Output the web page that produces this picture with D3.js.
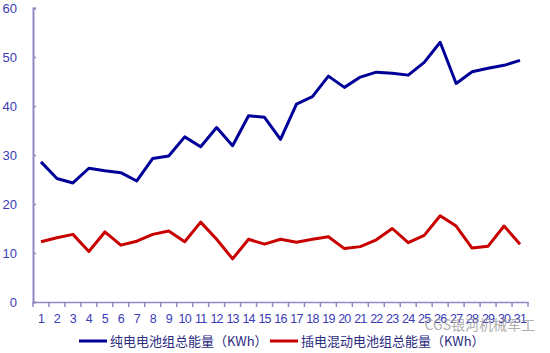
<!DOCTYPE html>
<html>
<head>
<meta charset="utf-8">
<script src="https://cdn.jsdelivr.net/npm/d3@7"></script>
<style>
  body { margin: 0; background: #fff; }
  svg { display: block; }
</style>
</head>
<body>
<svg id="chart"></svg>
<script>
// x categories (1..31) and the two series
const days = ["1","2","3","4","5","6","7","8","9","10","11","12","13","14","15","16","17","18","19","20","21","22","23","24","25","26","27","28","29","30","31"];
const bevValues = [28.6, 25.2, 24.3, 27.3, 26.8, 26.4, 24.7, 29.3, 29.8, 33.7, 31.7, 35.6, 31.9, 38.0, 37.7, 33.2, 40.4, 41.9, 46.1, 43.8, 45.9, 46.9, 46.7, 46.3, 48.9, 53.0, 44.6, 47.0, 47.7, 48.3, 49.3];
const phevValues = [12.3, 13.1, 13.8, 10.3, 14.3, 11.6, 12.4, 13.8, 14.5, 12.3, 16.3, 12.8, 8.8, 12.8, 11.8, 12.8, 12.2, 12.8, 13.3, 10.9, 11.3, 12.7, 15.0, 12.1, 13.6, 17.6, 15.5, 11.0, 11.4, 15.5, 11.8];
const yTicks = [0, 10, 20, 30, 40, 50, 60];
const seriesNames = ["纯电电池组总能量（KWh）", "插电混动电池组总能量（KWh）"];

const W = 550, H = 353;
const margin = { top: 8, right: 22, bottom: 51, left: 33 };
const width = W - margin.left - margin.right,
      height = H - margin.top - margin.bottom;

const svg = d3.select("#chart").attr("width", W).attr("height", H);
const g = svg.append("g").attr("transform", `translate(${margin.left},${margin.top})`);

const x = d3.scaleBand().domain(days).range([0, width]);
const y = d3.scaleLinear().domain([0, 60]).range([height, 0]);

const axisColor = "#8f8ac4";
const labelColor = "#3b3bb5";
const font = "'Liberation Sans', Arial, sans-serif";

// y axis
const yAxis = g.append("g")
    .call(d3.axisLeft(y).tickValues(yTicks).tickSize(-3).tickPadding(16));
yAxis.select(".domain").attr("stroke", axisColor).attr("stroke-width", 2);
yAxis.selectAll(".tick line").attr("stroke", axisColor).attr("stroke-width", 1.5);
yAxis.selectAll(".tick text").attr("fill", labelColor).style("font-size", "13px").style("font-family", font);

// x axis
const xAxis = g.append("g")
    .attr("transform", `translate(0,${height})`)
    .call(d3.axisBottom(x).tickSize(0).tickPadding(12));
xAxis.select(".domain").attr("stroke", axisColor).attr("stroke-width", 1.5);
xAxis.selectAll(".tick text").attr("fill", labelColor).style("font-size", "12.5px").style("font-family", font)
    .attr("letter-spacing", "-0.8px");
// ticks on band boundaries
xAxis.selectAll(".edge")
    .data(days.concat(["end"]))
    .enter().append("line")
    .attr("x1", (d, i) => i * x.step())
    .attr("x2", (d, i) => i * x.step())
    .attr("y1", 0).attr("y2", 5)
    .attr("stroke", axisColor).attr("stroke-width", 1.5);

const line = d3.line()
    .x((d, i) => x(days[i]) + x.bandwidth() / 2)
    .y(d => y(d));

g.append("path").datum(bevValues)
    .attr("fill", "none").attr("stroke", "#000099").attr("stroke-width", 3)
    .attr("stroke-linejoin", "round")
    .attr("d", line);

g.append("path").datum(phevValues)
    .attr("fill", "none").attr("stroke", "#c80000").attr("stroke-width", 3)
    .attr("stroke-linejoin", "round")
    .attr("d", line);

// legend
const legend = svg.append("g").attr("transform", "translate(0,341)");
const legendItems = [
    { name: seriesNames[0], color: "#000099", x: 79 },
    { name: seriesNames[1], color: "#c80000", x: 270 }
];
legendItems.forEach(d => {
    legend.append("line")
        .attr("x1", d.x).attr("x2", d.x + 28)
        .attr("y1", 0).attr("y2", 0)
        .attr("stroke", d.color).attr("stroke-width", 3);
    legend.append("text")
        .attr("x", d.x + 31).attr("y", 0).attr("dy", "0.35em")
        .attr("fill", "#2b2b80")
        .style("font-size", "13px")
        .style("font-family", "'Noto Sans CJK SC', sans-serif")
        .text(d.name);
});

// watermark
svg.append("text")
    .attr("x", 535).attr("y", 330)
    .attr("text-anchor", "end")
    .attr("fill", "#9a9a9a").attr("opacity", 0.8)
    .style("font-size", "14px")
    .style("font-family", "'Noto Sans CJK SC', sans-serif")
    .text("CGS银河机械军工");
</script>
</body>
</html>
